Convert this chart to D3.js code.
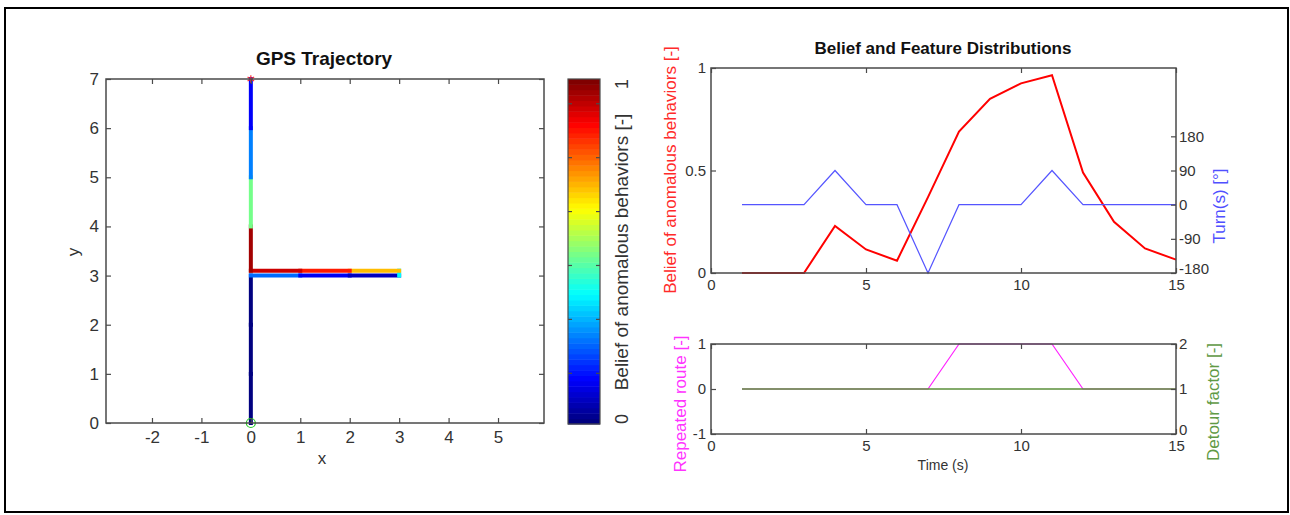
<!DOCTYPE html>
<html>
<head>
<meta charset="utf-8">
<script src="https://cdn.jsdelivr.net/npm/d3@7"></script>
<style>
body{margin:0;background:#fff}
text{font-family:"Liberation Sans",Arial,sans-serif}
</style>
</head>
<body>
<svg id="canvas" width="1290" height="515"></svg>
<script>
// trajectory points (one per second) and the belief at each of them
let trajX=[0,0,0,0,1,2,3,3,2,1,0,0,0,0,0];
let trajY=[0,1,2,3,3,3,3,3.1,3.1,3.1,3.1,4,5,6,7];
let times=[1,2,3,4,5,6,7,8,9,10,11,12,13,14,15];
let belief=[0,0,0,0.23,0.115,0.06,0.37,0.69,0.85,0.925,0.965,0.49,0.25,0.12,0.065];
let turns=[0,0,0,90,0,0,-180,0,0,0,90,0,0,0,0];
let repeated=[0,0,0,0,0,0,0,1,1,1,1,0,0,0,0];
let detour=[1,1,1,1,1,1,1,1,1,1,1,1,1,1,1];

let gpsXTicks=[-2,-1,0,1,2,3,4,5];
let gpsYTicks=[0,1,2,3,4,5,6,7];
let cbTicks=[10,20,30,40,50,60];
let cbLabels=[0,1];
let timeTicks=[0,5,10,15];
let beliefTicks=[0,0.5,1];
let turnTicks=[-180,-90,0,90,180];
let repTicks=[-1,0,1];
let detTicks=[0,1,2];

let canvas=d3.select("#canvas");
let axisColor="#4a4a4a";
let textColor="#333";
let plain=(d)=>String(d);

// matlab style jet colours
let jet=(v)=>{
    let c=(t)=>Math.round(255*Math.max(0,Math.min(1,1.5-Math.abs(t))));
    return d3.rgb(c(4*v-3),c(4*v-2),c(4*v-1)).toString();
}

canvas.append("rect")
    .attr("x",5).attr("y",8).attr("width",1283).attr("height",504)
    .attr("fill","none").attr("stroke","#000").attr("stroke-width",2);

let drawBox=(x,y)=>{
    canvas.append("rect")
        .attr("x",x.range()[0]).attr("y",y.range()[1])
        .attr("width",x.range()[1]-x.range()[0])
        .attr("height",y.range()[0]-y.range()[1])
        .attr("fill","none").attr("stroke",axisColor).attr("stroke-width",1.5);
}
let styleAxis=(g,fs)=>{
    g.select(".domain").remove();
    g.selectAll(".tick line").attr("stroke",axisColor).attr("stroke-width",1.2);
    g.selectAll(".tick text").attr("fill",textColor).style("font-size",fs+"px").attr("font-family","Liberation Sans, Arial, sans-serif");
}

// ---------- GPS trajectory ----------
let gx=d3.scaleLinear().domain([-2.93,5.93]).range([106,544]);
let gy=d3.scaleLinear().domain([0,7]).range([423,79]);

let segs=d3.range(trajX.length-1);
canvas.append("g").selectAll("line")
    .data(segs)
    .enter()
    .append("line")
    .attr("x1",(i)=>gx(trajX[i]))
    .attr("y1",(i)=>gy(trajY[i]))
    .attr("x2",(i)=>gx(trajX[i+1]))
    .attr("y2",(i)=>gy(trajY[i+1]))
    .attr("stroke",(i)=>jet(belief[i]))
    .attr("stroke-width",4)
    .attr("stroke-linecap","square");

canvas.append("circle")
    .attr("cx",gx(trajX[0])).attr("cy",gy(trajY[0])).attr("r",4.5)
    .attr("fill","none").attr("stroke","#22cc22").attr("stroke-width",1.2);
let last=trajX.length-1;
canvas.append("path")
    .attr("d",d3.symbol().type(d3.symbolAsterisk||d3.symbolCross).size(40)())
    .attr("transform","translate("+gx(trajX[last])+","+gy(trajY[last])+")")
    .attr("fill","none").attr("stroke","#ff3030").attr("stroke-width",1.2);

drawBox(gx,gy);
styleAxis(canvas.append("g").attr("transform","translate(0,423)")
    .call(d3.axisBottom(gx).tickValues(gpsXTicks).tickSize(-5).tickPadding(8).tickFormat(plain)),17);
styleAxis(canvas.append("g").attr("transform","translate(0,79)")
    .call(d3.axisTop(gx).tickValues(gpsXTicks).tickSize(-5).tickFormat("")),17);
styleAxis(canvas.append("g").attr("transform","translate(106,0)")
    .call(d3.axisLeft(gy).tickValues(gpsYTicks).tickSize(-5).tickPadding(7).tickFormat(plain)),17);
styleAxis(canvas.append("g").attr("transform","translate(544,0)")
    .call(d3.axisRight(gy).tickValues(gpsYTicks).tickSize(-5).tickFormat("")),17);

canvas.append("text").attr("x",324).attr("y",65).attr("text-anchor","middle")
    .style("font-size","19px").style("font-weight","bold").attr("fill","#111").text("GPS Trajectory");
canvas.append("text").attr("x",322).attr("y",464).attr("text-anchor","middle")
    .style("font-size","17px").attr("fill",textColor).text("x");
canvas.append("text").attr("transform","translate(79,252) rotate(-90)").attr("text-anchor","middle")
    .style("font-size","17px").attr("fill",textColor).text("y");

// ---------- colour bar ----------
let cbY=d3.scaleLinear().domain([0.5,64.5]).range([424,79]);
let cbX=[568,600];
let cells=d3.range(1,65);
canvas.append("g").selectAll("rect")
    .data(cells)
    .enter()
    .append("rect")
    .attr("x",cbX[0]).attr("width",cbX[1]-cbX[0])
    .attr("y",(i)=>cbY(i+0.5))
    .attr("height",(i)=>cbY(i-0.5)-cbY(i+0.5)+0.5)
    .attr("fill",(i)=>jet((i-1)/63));
canvas.append("rect").attr("x",cbX[0]).attr("y",79).attr("width",cbX[1]-cbX[0]).attr("height",345)
    .attr("fill","none").attr("stroke",axisColor).attr("stroke-width",1.2);
styleAxis(canvas.append("g").attr("transform","translate("+cbX[0]+",0)")
    .call(d3.axisLeft(cbY).tickValues(cbTicks).tickSize(-4).tickFormat("")),16);
styleAxis(canvas.append("g").attr("transform","translate("+cbX[1]+",0)")
    .call(d3.axisRight(cbY).tickValues(cbTicks).tickSize(-4).tickFormat("")),16);
let cbV=d3.scaleLinear().domain([0,1]).range([424,79]);
canvas.append("g").selectAll("text")
    .data(cbLabels)
    .enter()
    .append("text")
    .attr("transform",(d)=>"translate(622,"+cbV(d)+") rotate(-90)")
    .attr("text-anchor",(d)=>d===1?"end":"start")
    .attr("dy","0.35em")
    .style("font-size","18px").attr("fill",textColor)
    .text((d)=>d);
canvas.append("text").attr("transform","translate(621,252) rotate(-90)")
    .attr("text-anchor","middle").attr("dy","0.35em")
    .style("font-size","19px").attr("fill",textColor).text("Belief of anomalous behaviors [-]");

// ---------- belief and turns ----------
let tx=d3.scaleLinear().domain([0,15]).range([711,1176]);
let by=d3.scaleLinear().domain([0,1]).range([273,68]);
let ty=d3.scaleLinear().domain([-180,360]).range([273,68]);

canvas.append("path")
    .datum(times)
    .attr("fill","none").attr("stroke","#ff0000").attr("stroke-width",2)
    .attr("d",d3.line().x((t)=>tx(t)).y((t,i)=>by(belief[i])));
canvas.append("path")
    .datum(times)
    .attr("fill","none").attr("stroke","#5555ff").attr("stroke-width",1.2)
    .attr("d",d3.line().x((t)=>tx(t)).y((t,i)=>ty(turns[i])));

drawBox(tx,by);
styleAxis(canvas.append("g").attr("transform","translate(0,273)")
    .call(d3.axisBottom(tx).tickValues(timeTicks).tickSize(-5).tickPadding(6).tickFormat(plain)),15);
styleAxis(canvas.append("g").attr("transform","translate(0,68)")
    .call(d3.axisTop(tx).tickValues(timeTicks).tickSize(-5).tickFormat("")),15);
styleAxis(canvas.append("g").attr("transform","translate(711,0)")
    .call(d3.axisLeft(by).tickValues(beliefTicks).tickSize(-5).tickPadding(5).tickFormat(plain)),15);
let turnAxis=canvas.append("g").attr("transform","translate(1176,0)")
    .call(d3.axisRight(ty).tickValues(turnTicks).tickSize(-5).tickPadding(3).tickFormat(plain));
styleAxis(turnAxis,15);
turnAxis.selectAll(".tick text").attr("dy",(d)=>d===-180?"0.05em":"0.32em");

canvas.append("text").attr("x",943).attr("y",54).attr("text-anchor","middle")
    .style("font-size","17px").style("font-weight","bold").attr("fill","#111").text("Belief and Feature Distributions");
canvas.append("text").attr("transform","translate(670,170) rotate(-90)")
    .attr("text-anchor","middle").attr("dy","0.35em")
    .style("font-size","17px").attr("fill","#ff2a2a").text("Belief of anomalous behaviors [-]");
canvas.append("text").attr("transform","translate(1219,206) rotate(-90)")
    .attr("text-anchor","middle").attr("dy","0.35em")
    .style("font-size","17px").attr("fill","#5050ff").text("Turn(s) [°]");

// ---------- repeated route and detour ----------
let ry=d3.scaleLinear().domain([-1,1]).range([434,344]);
let dy=d3.scaleLinear().domain([0,2]).range([434,344]);

canvas.append("path")
    .datum(times)
    .attr("fill","none").attr("stroke","#ff22ff").attr("stroke-width",1.2)
    .attr("d",d3.line().x((t)=>tx(t)).y((t,i)=>ry(repeated[i])));
canvas.append("path")
    .datum(times)
    .attr("fill","none").attr("stroke","#5a8f3a").attr("stroke-width",1.5)
    .attr("d",d3.line().x((t)=>tx(t)).y((t,i)=>dy(detour[i])));

drawBox(tx,ry);
styleAxis(canvas.append("g").attr("transform","translate(0,434)")
    .call(d3.axisBottom(tx).tickValues(timeTicks).tickSize(-5).tickPadding(6).tickFormat(plain)),15);
styleAxis(canvas.append("g").attr("transform","translate(0,344)")
    .call(d3.axisTop(tx).tickValues(timeTicks).tickSize(-5).tickFormat("")),15);
styleAxis(canvas.append("g").attr("transform","translate(711,0)")
    .call(d3.axisLeft(ry).tickValues(repTicks).tickSize(-5).tickPadding(5).tickFormat(plain)),15);
let detAxis=canvas.append("g").attr("transform","translate(1176,0)")
    .call(d3.axisRight(dy).tickValues(detTicks).tickSize(-5).tickPadding(3).tickFormat(plain));
styleAxis(detAxis,15);
detAxis.selectAll(".tick text").attr("dy",(d)=>d===0?"0":"0.32em");

canvas.append("text").attr("x",943).attr("y",470).attr("text-anchor","middle")
    .style("font-size","14px").attr("fill",textColor).text("Time (s)");
canvas.append("text").attr("transform","translate(680,404) rotate(-90)")
    .attr("text-anchor","middle").attr("dy","0.35em")
    .style("font-size","17px").attr("fill","#ff33ff").text("Repeated route [-]");
canvas.append("text").attr("transform","translate(1213,402) rotate(-90)")
    .attr("text-anchor","middle").attr("dy","0.35em")
    .style("font-size","17px").attr("fill","#5f9a45").text("Detour factor [-]");
</script>
</body>
</html>
